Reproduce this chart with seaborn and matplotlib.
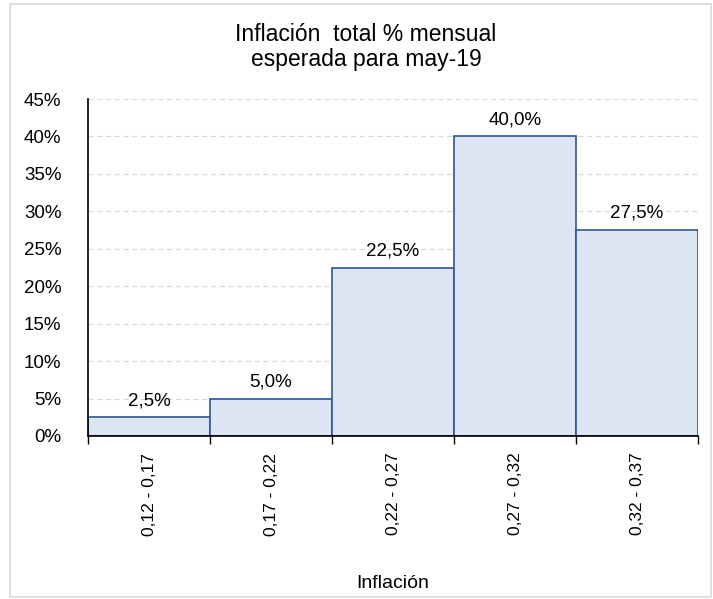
import matplotlib
matplotlib.use('Agg')
import matplotlib.pyplot as plt
import seaborn as sns
import pandas as pd
from matplotlib.patches import Rectangle
from matplotlib.ticker import FixedLocator

# Data
ranges = ['0,12 - 0,17', '0,17 - 0,22', '0,22 - 0,27', '0,27 - 0,32', '0,32 - 0,37']
shares = [2.5, 5.0, 22.5, 40.0, 27.5]
labels = ['2,5%', '5,0%', '22,5%', '40,0%', '27,5%']

df = pd.DataFrame({'Rango': ranges, 'Pct': shares})

sns.set_style('white')
plt.rcParams['font.family'] = ['Liberation Sans', 'DejaVu Sans']
plt.rcParams['text.color'] = 'black'
plt.rcParams['xtick.color'] = 'black'
plt.rcParams['ytick.color'] = 'black'

fig = plt.figure(figsize=(7.13, 5.99), dpi=100)
ax = fig.add_axes([88 / 713, 1 - 436 / 599, 610 / 713, 337 / 599])

sns.barplot(x='Rango', y='Pct', data=df, ax=ax, width=1.0,
            color='#DCE6F2', edgecolor='#2F5597', linewidth=1.2, saturation=1)

for i, (v, t) in enumerate(zip(shares, labels)):
    ax.text(i, v + 1.1, t, ha='center', va='bottom', fontsize=13.5)

ax.set_ylim(0, 45)
ax.set_xlim(-0.5, 4.5)
ax.set_yticks(range(0, 46, 5))
ax.set_yticklabels([f'{v}%' for v in range(0, 46, 5)], fontsize=13.5)
ax.yaxis.grid(True, linestyle=(0, (4, 3)), color='#D9D9D9', linewidth=0.9)
ax.set_axisbelow(True)

ax.set_xticks(range(len(ranges)))
ax.set_xticklabels(ranges, rotation=90, fontsize=12.5)
ax.xaxis.set_minor_locator(FixedLocator([-0.5, 0.5, 1.5, 2.5, 3.5, 4.5]))
ax.tick_params(axis='x', which='major', length=0, pad=12)
ax.tick_params(axis='x', which='minor', length=6, width=1, color='black', direction='out', bottom=True)
ax.tick_params(axis='y', length=0, pad=19)

for s in ['top', 'right']:
    ax.spines[s].set_visible(False)
for s in ['left', 'bottom']:
    ax.spines[s].set_color('black')
    ax.spines[s].set_linewidth(1.2)

ax.set_ylabel('')
ax.set_xlabel('')
fig.text(393 / 713, 1 - 583 / 599, 'Inflación', ha='center', va='center', fontsize=14)
fig.text(366 / 713, 1 - 47 / 599, 'Inflación  total % mensual\nesperada para may-19',
         ha='center', va='center', fontsize=16.5, linespacing=1.15)

fig.patches.append(Rectangle((10 / 713, 2 / 599), 701 / 713, 593 / 599,
                             transform=fig.transFigure, fill=False,
                             edgecolor='#D9D9D9', linewidth=1.2))

fig.savefig('out.png', dpi=100)
